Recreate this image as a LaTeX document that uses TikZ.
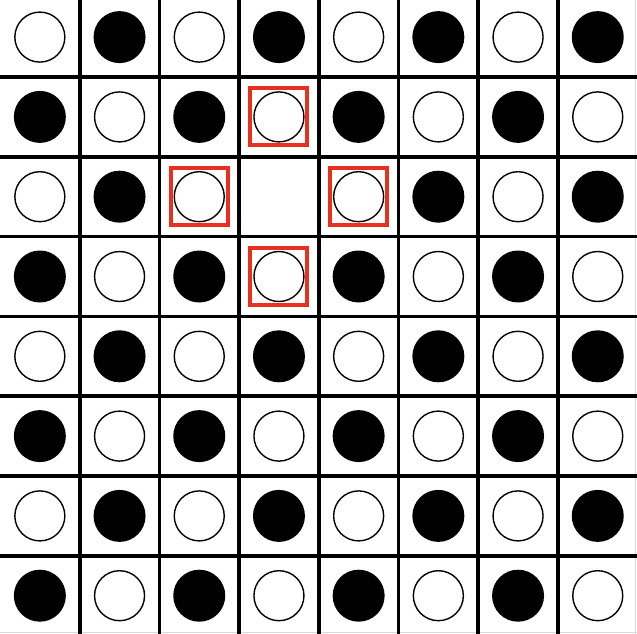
\documentclass[tikz,border=0pt]{standalone}
\definecolor{hl}{RGB}{232,48,32}
\tikzset{
  gridline/.style={line width=3.6pt, black},
  edgeline/.style={line width=0.8pt, black!15},
  wpiece/.style={circle, draw=black, fill=white, line width=1.4pt, minimum size=50pt, inner sep=0pt},
  bpiece/.style={circle, fill=black, minimum size=52pt, inner sep=0pt},
  markbox/.style={rectangle, draw=hl, line width=4pt, minimum size=57pt, inner sep=0pt},
}
\begin{document}
\begin{tikzpicture}[x=1pt,y=-1pt]
\useasboundingbox (0,0) rectangle (637,634);
\clip (0,0) rectangle (637,634);
\fill[white] (0,0) rectangle (637,634);
% faint tile edges
\draw[edgeline] (635.5,0) -- (635.5,634);
\draw[edgeline] (0,632.8) -- (637,632.8);
% grid lines
\foreach \k in {1,...,7} {
  \draw[gridline] ({79.7*\k},0) -- ({79.7*\k},634);
  \draw[gridline] (0,{79.8*\k-2.8}) -- (637,{79.8*\k-2.8});
}
% pieces
\foreach \r in {0,...,7} {
  \foreach \c in {0,...,7} {
    \pgfmathtruncatemacro\parity{mod(\r+\c,2)}
    \pgfmathtruncatemacro\isempty{(\r==2)&&(\c==3)}
    \ifnum\isempty=1
      \coordinate (p-\r-\c) at ({79.7*(\c+0.5)},{79.8*(\r+0.5)-2.8});
    \else
      \ifnum\parity=0
        \node[wpiece] (p-\r-\c) at ({79.7*(\c+0.5)},{79.8*(\r+0.5)-2.8}) {};
      \else
        \node[bpiece] (p-\r-\c) at ({79.7*(\c+0.5)},{79.8*(\r+0.5)-2.8}) {};
      \fi
    \fi
  }
}
% highlighted neighbours
\node[markbox] (m-1-3) at (p-1-3) {};
\node[markbox] (m-2-2) at (p-2-2) {};
\node[markbox] (m-2-4) at (p-2-4) {};
\node[markbox] (m-3-3) at (p-3-3) {};
\end{tikzpicture}
\end{document}
